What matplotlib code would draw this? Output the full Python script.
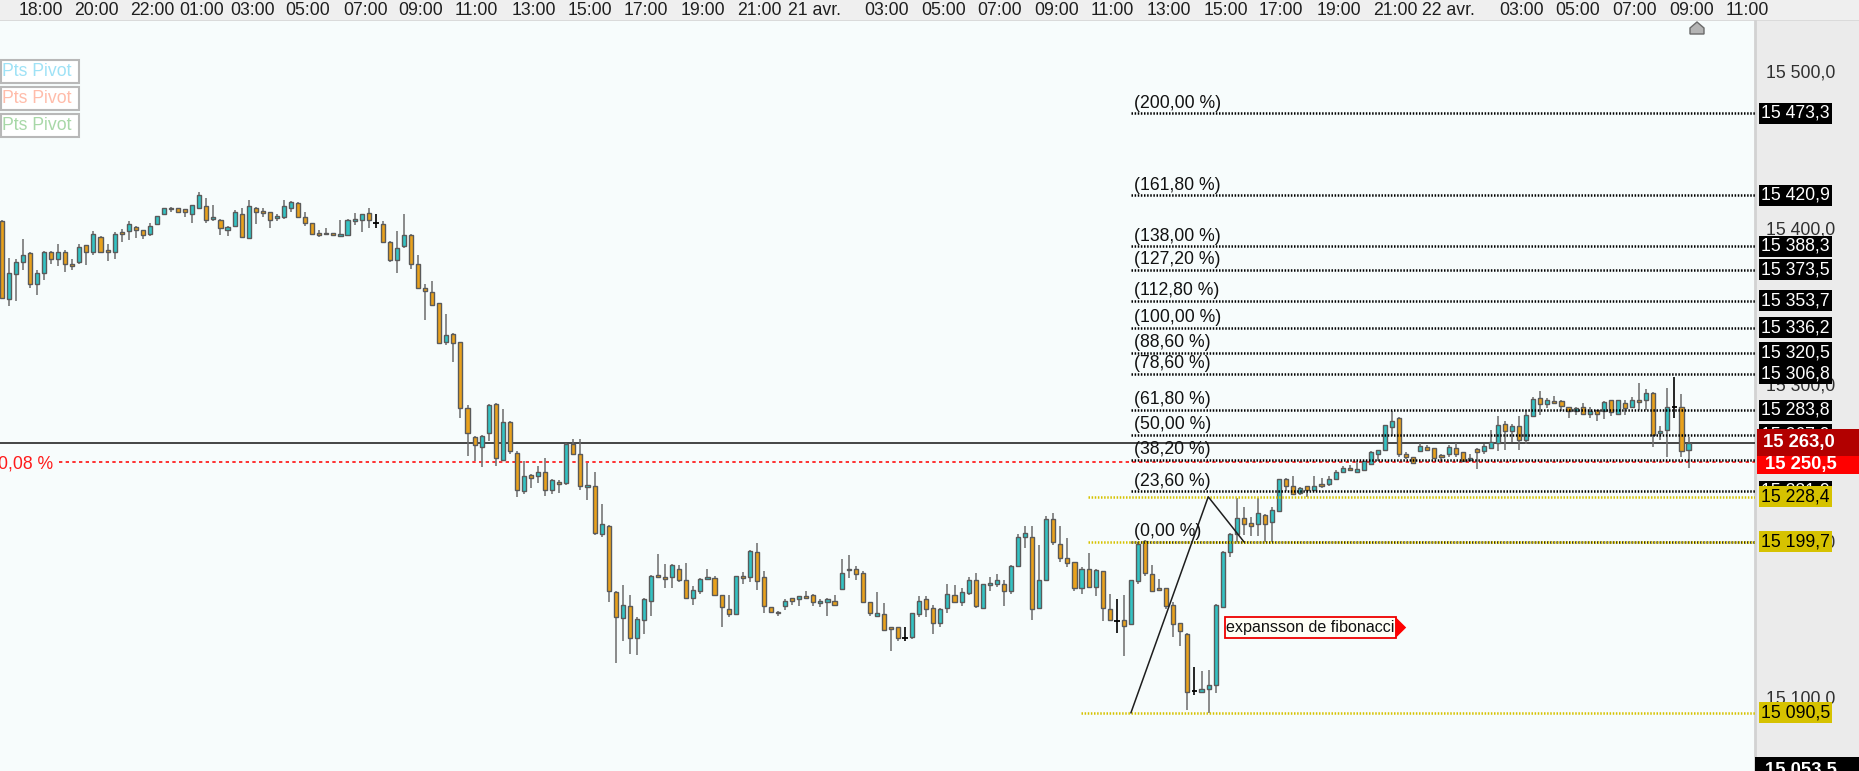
import matplotlib
matplotlib.use("Agg")
import matplotlib.pyplot as plt
import matplotlib.transforms as mtransforms
from matplotlib.lines import Line2D
from matplotlib.patches import Polygon, Rectangle
import numpy as np

plt.rcParams["font.family"] = ["Liberation Sans", "DejaVu Sans"]

# ---------------------------------------------------------------------------
# Data: 15 min candles
# ---------------------------------------------------------------------------

OPEN = [
    15404.5, 15355, 15370.5, 15378.5, 15384, 15364.5, 15371.5, 15385, 15380.5, 15385,
    15376.5, 15378, 15389, 15384.5, 15394.5, 15385.5, 15384.5, 15397.5, 15398, 15400.5,
    15398.5, 15396.5, 15402.5, 15409, 15413, 15412.5, 15412, 15409, 15413, 15414,
    15405.5, 15405, 15399, 15401.5, 15409, 15393.5, 15413, 15410.5, 15410, 15407,
    15407, 15413, 15416, 15407, 15403, 15396.5, 15396, 15396.5, 15395.5, 15395.5,
    15405, 15405, 15409.5, 15403.5, 15402.5, 15391, 15379.5, 15388.5, 15395.5, 15377,
    15362, 15359, 15352, 15327, 15332.5, 15327, 15285, 15266.5, 15260.5, 15269,
    15287.5, 15252, 15276, 15256.5, 15232, 15242, 15241.5, 15244, 15233, 15237.5,
    15237.5, 15262, 15256, 15235, 15235.5, 15204.5, 15210, 15167.5, 15151, 15158.5,
    15138, 15150, 15162, 15178, 15177, 15177, 15182.5, 15175, 15163.5, 15168,
    15176.5, 15176.5, 15165.5, 15157, 15153.5, 15178, 15177, 15193, 15177, 15158,
    15155, 15158.5, 15163.5, 15163, 15164.5, 15166, 15160.5, 15161, 15162, 15169.5,
    15181.5, 15182, 15179.5, 15161, 15152.5, 15153.5, 15145, 15145, 15138, 15139,
    15153.5, 15163, 15157.5, 15148, 15157.5, 15166, 15161, 15167, 15175.5, 15157.5,
    15172.5, 15172.5, 15172.5, 15168, 15184, 15202.5, 15203, 15157.5, 15175, 15214,
    15198.5, 15189, 15186.5, 15170, 15182, 15171, 15181, 15157, 15149, 15149.5,
    15147, 15174.5, 15200, 15179, 15170, 15170, 15159.5, 15147.5, 15141, 15104.5,
    15104, 15105.5, 15108.5, 15158, 15193, 15204.5, 15215, 15211.5, 15211, 15217,
    15212, 15219, 15240, 15235.5, 15230.5, 15235, 15232.5, 15236, 15236.5, 15239.5,
    15244.5, 15247, 15244.5, 15245.5, 15249.5, 15256, 15258.5, 15273, 15279, 15255.5,
    15253.5, 15257.5, 15260.5, 15259.5, 15254.5, 15256, 15259.5, 15257, 15252.5, 15259,
    15257.5, 15259.5, 15262.5, 15275, 15270.5, 15273.5, 15264.5, 15280, 15291.5, 15287.5,
    15289, 15289.5, 15285.5, 15283, 15285.5, 15281.5, 15283.5, 15283, 15290, 15281.5,
    15288.5, 15285.5, 15290, 15290, 15294.5, 15269, 15271, 15286, 15285.5, 15258,
]

HIGH = [
    15405, 15381, 15380, 15393, 15384.5, 15373, 15385.5, 15385.5, 15390, 15386,
    15380.5, 15390, 15389, 15398, 15395, 15389.5, 15397.5, 15399.5, 15404.5, 15401.5,
    15398.5, 15403.5, 15408, 15413, 15413.5, 15412.5, 15412, 15414.5, 15423, 15419,
    15415, 15406, 15401.5, 15411.5, 15412.5, 15418, 15413.5, 15412.5, 15410.5, 15409,
    15418, 15417.5, 15416.5, 15410, 15403.5, 15399, 15400, 15397, 15405, 15405.5,
    15409.5, 15409, 15413, 15409, 15404.5, 15392, 15398, 15409, 15396.5, 15383,
    15364.5, 15366, 15352, 15345, 15333, 15327.5, 15287, 15267, 15268, 15287.5,
    15288, 15284.5, 15277, 15257.5, 15251, 15243, 15248, 15253, 15239.5, 15239,
    15263, 15265, 15265, 15250, 15244, 15224, 15210.5, 15168, 15172, 15165.5,
    15151.5, 15163.5, 15178.5, 15192, 15185.5, 15185.5, 15185, 15186, 15171.5, 15176.5,
    15182, 15178, 15165.5, 15166, 15178, 15180.5, 15194.5, 15199, 15181, 15158,
    15155.5, 15163, 15164, 15165, 15168, 15166.5, 15163, 15163.5, 15166, 15188.5,
    15191, 15184.5, 15181, 15161, 15167.5, 15160.5, 15145.5, 15145.5, 15145.5, 15154.5,
    15165, 15165, 15159, 15157.5, 15172.5, 15172, 15170, 15177, 15179.5, 15172.5,
    15177, 15179, 15175, 15185, 15204.5, 15210, 15210, 15197.5, 15216, 15218,
    15209.5, 15202, 15186.5, 15183.5, 15192.5, 15182, 15181, 15166.5, 15163, 15165.5,
    15175.5, 15199.5, 15200.5, 15185, 15176, 15170, 15161.5, 15148, 15141.5, 15120,
    15117, 15117.5, 15160, 15194, 15205, 15227.5, 15222, 15215.5, 15227.5, 15217.5,
    15222, 15240, 15240.5, 15241.5, 15234.5, 15235, 15241.5, 15240.5, 15241.5, 15245.5,
    15248, 15248.5, 15251.5, 15251.5, 15257.5, 15258.5, 15274.5, 15283, 15279.5, 15257,
    15254, 15263, 15261.5, 15259.5, 15255.5, 15261.5, 15262.5, 15257, 15256, 15259.5,
    15262, 15271, 15280, 15277, 15275, 15280, 15284, 15292, 15296, 15291.5,
    15292.5, 15290, 15285.5, 15285.5, 15288.5, 15285.5, 15284, 15289.5, 15290, 15290,
    15290, 15292, 15301, 15297, 15295, 15273.5, 15298, 15305, 15294, 15266.5,
]

LOW = [
    15354.5, 15350, 15353.5, 15373, 15362, 15357, 15367, 15377, 15376, 15372,
    15373, 15377, 15376.5, 15383, 15384.5, 15379, 15380.5, 15391, 15392.5, 15393.5,
    15393, 15395, 15402.5, 15409, 15410.5, 15410.5, 15407, 15403.5, 15413, 15403,
    15404.5, 15395.5, 15395, 15401.5, 15394, 15393.5, 15402.5, 15407, 15400, 15404.5,
    15406, 15410, 15406.5, 15401.5, 15396.5, 15394, 15396, 15395, 15395, 15395,
    15402, 15397.5, 15400, 15400, 15390.5, 15378, 15371, 15387, 15374, 15361,
    15341, 15351, 15326, 15325.5, 15314.5, 15279, 15254.5, 15251.5, 15247.5, 15264,
    15248, 15251.5, 15256, 15228, 15230, 15234, 15237.5, 15229, 15230, 15231,
    15236, 15255.5, 15233, 15226.5, 15204, 15202.5, 15161.5, 15122.5, 15136.5, 15128,
    15127.5, 15140.5, 15152.5, 15177, 15170, 15170, 15174, 15163.5, 15159.5, 15166.5,
    15175.5, 15165, 15145, 15151.5, 15153.5, 15172.5, 15174, 15169, 15154.5, 15154,
    15152, 15156, 15159, 15158.5, 15164, 15158.5, 15158, 15152.5, 15158.5, 15169,
    15176.5, 15175.5, 15160.5, 15152, 15152, 15143.5, 15130, 15136.5, 15136, 15137.5,
    15151.5, 15151.5, 15141, 15145, 15154, 15161, 15158.5, 15166, 15157.5, 15156.5,
    15168, 15170.5, 15158.5, 15166.5, 15184, 15195.5, 15149.5, 15157.5, 15175, 15197.5,
    15186.5, 15183.5, 15168, 15166.5, 15170, 15165, 15149, 15149.5, 15141.5, 15127,
    15147, 15172.5, 15178, 15168, 15168, 15157, 15139, 15133, 15092.5, 15102,
    15104, 15090.5, 15103, 15157.5, 15190, 15199.5, 15204, 15203.5, 15203.5, 15199.5,
    15199.5, 15218.5, 15232, 15230, 15229.5, 15228.5, 15232, 15234, 15235, 15239,
    15244, 15245, 15244, 15245, 15249, 15251.5, 15258.5, 15267.5, 15254, 15252.5,
    15249.5, 15257, 15258.5, 15253, 15251.5, 15253.5, 15254, 15251, 15251, 15246,
    15255.5, 15259.5, 15257.5, 15258.5, 15263.5, 15258.5, 15262, 15280, 15280.5, 15285,
    15288.5, 15283, 15279, 15280.5, 15280.5, 15278.5, 15277, 15278, 15280, 15280.5,
    15280.5, 15285, 15284, 15284, 15260.5, 15264.5, 15253.5, 15278.5, 15253.5, 15246.5,
]

CLOSE = [
    15355.5, 15371, 15378.5, 15383, 15364.5, 15371, 15384.5, 15380.5, 15384.5, 15377,
    15376, 15388, 15385, 15396, 15385, 15385, 15396.5, 15396, 15402.5, 15399,
    15395.5, 15401.5, 15408, 15412.5, 15412, 15410.5, 15410, 15414.5, 15421, 15405,
    15407, 15400, 15400.5, 15410, 15394.5, 15414, 15410.5, 15410, 15405, 15407.5,
    15414, 15416.5, 15407, 15403.5, 15396.5, 15396, 15397, 15395.5, 15396, 15405,
    15405.5, 15409, 15405, 15403.5, 15391, 15379.5, 15387.5, 15395.5, 15377, 15362,
    15359.5, 15351, 15326.5, 15331.5, 15326.5, 15285, 15269, 15261.5, 15267.5, 15287,
    15253, 15276, 15257.5, 15232.5, 15241.5, 15240.5, 15244, 15232.5, 15239, 15237,
    15262, 15255.5, 15235.5, 15236, 15205.5, 15211, 15168, 15151.5, 15159, 15138,
    15150.5, 15163, 15178, 15177.5, 15176.5, 15185, 15175.5, 15164, 15169, 15176,
    15177, 15166, 15158, 15153.5, 15177.5, 15176.5, 15194, 15174.5, 15158.5, 15155,
    15154, 15162, 15162, 15165, 15164, 15161, 15162, 15163, 15159, 15179.5,
    15182.5, 15179, 15161.5, 15154, 15154, 15143.5, 15144.5, 15138.5, 15138, 15154,
    15162, 15156.5, 15147.5, 15156.5, 15166.5, 15161, 15167.5, 15175, 15158.5, 15172.5,
    15173, 15175.5, 15168, 15184, 15202.5, 15205, 15156.5, 15175, 15214, 15199.5,
    15189.5, 15186, 15170, 15182.5, 15171, 15181.5, 15157.5, 15149.5, 15149, 15146,
    15175, 15198, 15179.5, 15168.5, 15169.5, 15158.5, 15147, 15142.5, 15104, 15104.5,
    15105.5, 15108, 15159, 15193, 15204.5, 15215, 15211, 15210, 15218, 15211,
    15220, 15239.5, 15235, 15230, 15234, 15233, 15235.5, 15235.5, 15240, 15244,
    15247, 15245.5, 15246, 15251, 15257, 15258, 15274, 15277, 15256, 15254,
    15250, 15261, 15258.5, 15253, 15254, 15260, 15255.5, 15251.5, 15253, 15257,
    15261, 15263.5, 15274, 15270.5, 15273.5, 15264.5, 15280.5, 15291, 15287.5, 15290,
    15288.8, 15286.5, 15283, 15285, 15281, 15283, 15281, 15289, 15282.5, 15290,
    15285, 15290, 15289.5, 15294.5, 15268, 15270.5, 15285.5, 15286, 15257.5, 15263,
]

# time labels (candle index where each label is centred)
TIME_LABELS = [
    "18:00", "20:00", "22:00", "01:00", "03:00", "05:00", "07:00", "09:00", "11:00",
    "13:00", "15:00", "17:00", "19:00", "21:00", "21 avr.", "03:00", "05:00", "07:00",
    "09:00", "11:00", "13:00", "15:00", "17:00", "19:00", "21:00", "22 avr.", "03:00",
    "05:00", "07:00", "09:00", "11:00",
]
TIME_POS = [
    5.5, 13.4, 21.3, 28.3, 35.5, 43.4, 51.5, 59.4, 67.3,
    75.4, 83.4, 91.3, 99.4, 107.3, 115.2, 125.4, 133.5, 141.4,
    149.4, 157.3, 165.4, 173.4, 181.3, 189.4, 197.5, 205.0, 215.4,
    223.3, 231.4, 239.5, 247.4,
]

PRICE_TICKS = [15500, 15400, 15300, 15200, 15100]

# fibonacci expansion
FIB_PCT = ["200,00", "161,80", "138,00", "127,20", "112,80", "100,00", "88,60",
           "78,60", "61,80", "50,00", "38,20", "23,60", "0,00"]
FIB_LEVELS = [15473.3, 15420.9, 15388.3, 15373.5, 15353.7, 15336.2, 15320.5,
              15306.8, 15283.8, 15267.9, 15251.8, 15231.9, 15199.7]
FIB_PIVOT_X = [160.0, 170.95, 176.0]
FIB_PIVOT_Y = [15090.5, 15228.4, 15199.7]
YELLOW_LEVELS = [15228.4, 15199.7, 15090.5]
YELLOW_START = [153.9, 153.9, 152.9]

LAST_PRICE = 15263.0
REF_PRICE = 15250.5
REF_PCT = "0,08 %"
LOW_EDGE_PRICE = 15053.5

PIVOT_COLORS = ["#9fe2f6", "#ffbcaa", "#a8d8a8"]

# ---------------------------------------------------------------------------
# Layout
# ---------------------------------------------------------------------------

W, H, DPI = 1859, 771, 100
HEADER_PX = 21
PLOT_W = 1755
FS = 12.7

UP_COL = "#33c3c4"
DN_COL = "#e9a11c"
EDGE_COL = "#5a5a5a"
WICK_COL = "#6c6c6c"
YELLOW = "#d6c200"
DOTS = (0, (0.6, 0.65))


def fmt_price(v):
    return f"{v:,.1f}".replace(",", " ").replace(".", ",")


fig = plt.figure(figsize=(W / DPI, H / DPI), dpi=DPI)
fig.patch.set_facecolor("white")

ax = fig.add_axes([0, 0, PLOT_W / W, (H - HEADER_PX) / H])
ax.set_facecolor("#f7fcfc")
XMIN, XMAX = -0.24, 248.42
YMIN, YMAX = 15053.3, 15532.2
ax.set_xlim(XMIN, XMAX)
ax.set_ylim(YMIN, YMAX)
ax.set_xticks([])
ax.set_yticks([])
for s in ax.spines.values():
    s.set_visible(False)

PX_PER_PT = (H - HEADER_PX) / (YMAX - YMIN)
ylab = mtransforms.blended_transform_factory(ax.transAxes, ax.transData)
xlab = mtransforms.blended_transform_factory(ax.transData, ax.transAxes)

# header band
fig.add_artist(Rectangle((0, (H - HEADER_PX) / H), 1, HEADER_PX / H,
                         transform=fig.transFigure, fc="#efefef", ec="none", zorder=-2))
fig.add_artist(Line2D([0, 1], [(H - HEADER_PX) / H] * 2, transform=fig.transFigure,
                      color="#d8d8d8", lw=2, zorder=-1))
for lab, pos in zip(TIME_LABELS, TIME_POS):
    ax.text(pos, 1 + 10.5 / (H - HEADER_PX), lab, transform=xlab, ha="center", va="center",
            fontsize=FS, color="#1e1e1e", clip_on=False)

# right price panel
ax.add_patch(Rectangle((1.0, 0), (W - PLOT_W) / PLOT_W, 1, transform=ax.transAxes,
                       fc="#ebebeb", ec="none", clip_on=False, zorder=0.5))
ax.add_line(Line2D([1.0, 1.0], [0, 1], transform=ax.transAxes, color="#d2d2d2", lw=2,
                   clip_on=False, zorder=0.6))

# ---------------------------------------------------------------------------
# Candles
# ---------------------------------------------------------------------------
o = np.array(OPEN)
hi = np.array(HIGH)
lo = np.array(LOW)
c = np.array(CLOSE)
x = np.arange(len(o))
up = c > o
dn = c < o
flat = c == o

ax.vlines(x[~flat], lo[~flat], hi[~flat], colors=WICK_COL, lw=1.1, zorder=2)
ax.vlines(x[flat], lo[flat], hi[flat], colors="black", lw=1.2, zorder=2)
body_h = np.abs(c - o)
body_lo = np.minimum(o, c)
small = body_h < 1.2
body_lo = np.where(small, (o + c) / 2 - 0.6, body_lo)
body_h = np.where(small, 1.2, body_h)
ax.bar(x[up], body_h[up], bottom=body_lo[up], width=0.58, color=UP_COL,
       edgecolor=EDGE_COL, lw=1.0, zorder=2.5)
ax.bar(x[dn], body_h[dn], bottom=body_lo[dn], width=0.58, color=DN_COL,
       edgecolor=EDGE_COL, lw=1.0, zorder=2.5)
ax.hlines(o[flat], x[flat] - 0.4, x[flat] + 0.4, colors="black", lw=1.3, zorder=2.5)

# last price / reference lines
ax.axhline(LAST_PRICE, color="#363636", lw=1.3, zorder=1.5)
ax.hlines(REF_PRICE, 8.1, XMAX, colors="#ff1010", lw=1.2, linestyles=(0, (2, 2)), zorder=1.6)
ax.text(7.27, REF_PRICE - 1.2, REF_PCT, ha="right", va="center", fontsize=FS, color="#ff1a1a")

# ---------------------------------------------------------------------------
# Fibonacci expansion
# ---------------------------------------------------------------------------
ax.hlines(FIB_LEVELS, FIB_PIVOT_X[0], XMAX, colors="black", lw=1.8,
          linestyles=DOTS, zorder=3)
for lvl, start in zip(YELLOW_LEVELS, YELLOW_START):
    ax.hlines(lvl, start, XMAX, colors=YELLOW, lw=1.8, linestyles=DOTS, zorder=3)
ax.plot(FIB_PIVOT_X, FIB_PIVOT_Y, color="#1e1e1e", lw=1.1, zorder=3.2)
for pct, lvl in zip(FIB_PCT, FIB_LEVELS):
    ax.annotate(f"({pct} %)", xy=(160.4, lvl), xytext=(0, 1.2), textcoords="offset points",
                ha="left", va="bottom", fontsize=FS, color="#111111", zorder=4)

# annotation box
bx0, bx1, by0, by1 = 173.3, 197.5, 15138.2, 15151.6
ax.add_patch(Rectangle((bx0, by0), bx1 - bx0, by1 - by0, fc="#fffff6", ec="#ee0000",
                       lw=1.3, zorder=4))
ax.add_patch(Polygon([(bx1, by1), (bx1 + 1.5, (by0 + by1) / 2), (bx1, by0)],
                     closed=True, fc="#ff0000", ec="none", zorder=4))
ax.text((bx0 + bx1) / 2, (by0 + by1) / 2, "expansson de fibonacci", ha="center",
        va="center", fontsize=11.6, color="#111111", zorder=4.5)

# ---------------------------------------------------------------------------
# Right price axis labels
# ---------------------------------------------------------------------------
for p in PRICE_TICKS:
    ax.text(1800.7 / PLOT_W, p - 1.0, fmt_price(p), transform=ylab, ha="center",
            va="center", fontsize=FS, color="#303030", clip_on=False, zorder=5)


def price_box(level, label, fc, tc, x0=1759, x1=1832, h_px=21, tx=1795.5, bold=False,
              z=6, yc=None):
    yc = level if yc is None else yc
    half = h_px / 2 / PX_PER_PT
    ax.add_patch(Rectangle((x0 / PLOT_W, yc - half), (x1 - x0) / PLOT_W, 2 * half,
                           transform=ylab, fc=fc, ec="none", clip_on=False, zorder=z))
    ax.text(tx / PLOT_W, yc, label, transform=ylab, ha="center", va="center",
            fontsize=FS + (0.6 if bold else 0), fontweight="bold" if bold else "normal",
            color=tc, clip_on=False, zorder=z + 0.1)


for lvl in FIB_LEVELS:
    price_box(lvl, fmt_price(lvl), "black", "white")
for lvl in YELLOW_LEVELS:
    price_box(lvl, fmt_price(lvl), YELLOW, "black", z=7)
price_box(LAST_PRICE, fmt_price(LAST_PRICE), "#b20000", "white", x0=1757, x1=W, h_px=28,
          tx=1798.5, bold=True, z=8)
price_box(REF_PRICE, fmt_price(REF_PRICE), "#ff0000", "white", x0=1757, x1=W, h_px=18,
          tx=1801, bold=True, z=8.5, yc=REF_PRICE - 1.8)
price_box(LOW_EDGE_PRICE, fmt_price(LOW_EDGE_PRICE), "black", "white", x0=1755, x1=W,
          h_px=28, tx=1801, bold=True, z=8)

# ---------------------------------------------------------------------------
# Pivot legend boxes and current bar marker
# ---------------------------------------------------------------------------
for k, col in enumerate(PIVOT_COLORS):
    top = 60 + 27 * k
    fig.add_artist(Rectangle((0.5 / W, 1 - (top + 23) / H), 78 / W, 23 / H,
                             transform=fig.transFigure, fc="white", ec="#b8b8b8", lw=1.5,
                             zorder=3))
    fig.text(2 / W, 1 - (top + 11.5) / H, "Pts Pivot", ha="left", va="center",
             fontsize=FS, color=col, zorder=4)

marker_px = [(1690, 34), (1690, 28), (1697, 22), (1704, 28), (1704, 34)]
fig.add_artist(Polygon([(px / W, 1 - py / H) for px, py in marker_px], closed=True,
                       transform=fig.transFigure, fc="#b4b4b4", ec="#6a6a6a", lw=1,
                       zorder=5))

fig.savefig("out.png", dpi=DPI)
